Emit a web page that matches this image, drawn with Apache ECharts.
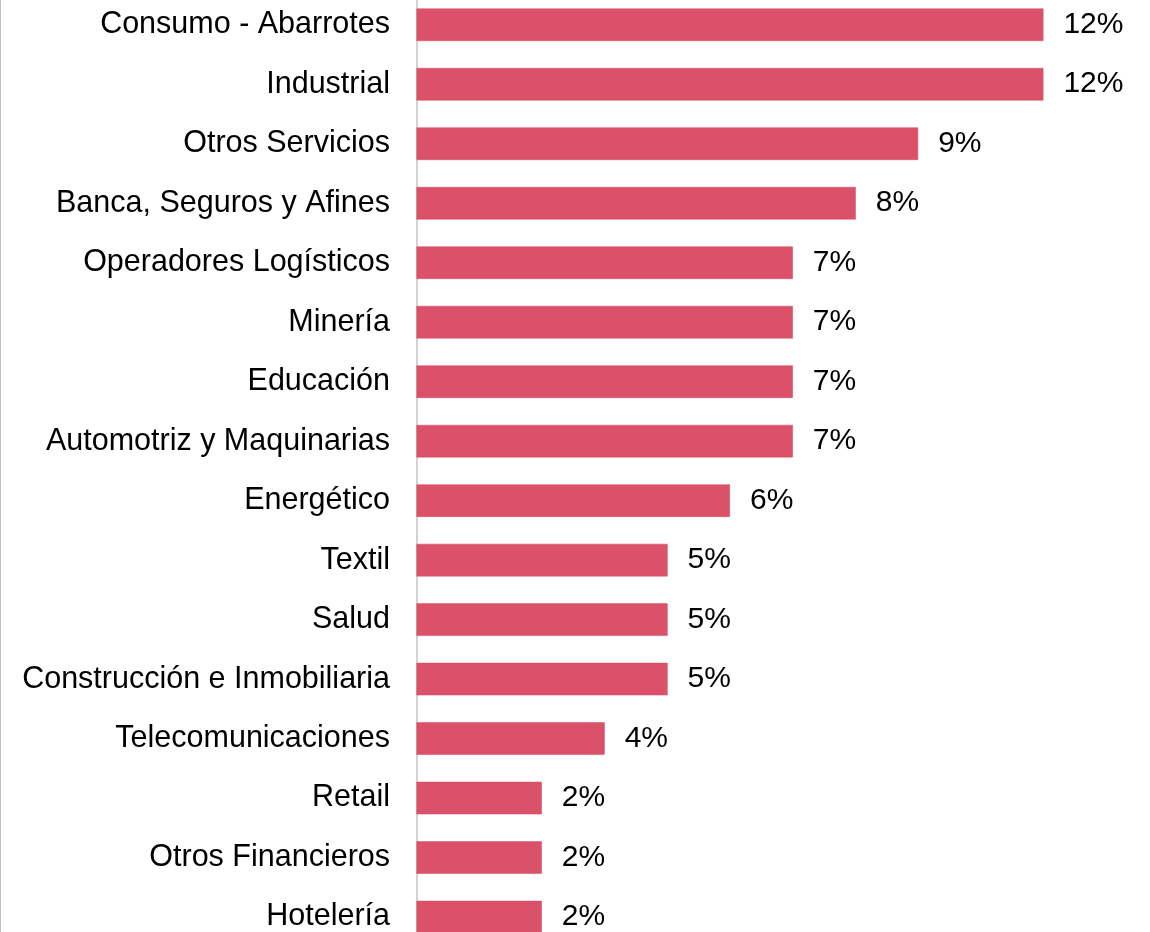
<!DOCTYPE html>
<html>
<head>
<meta charset="utf-8">
<style>
html,body{margin:0;padding:0;background:#fff;overflow:hidden;width:1150px;height:932px;position:relative;}
#chart{position:absolute;left:0;top:-6px;width:1150px;height:960px;}
#border{position:absolute;left:0;top:0;width:1px;height:932px;background:#bfbfbf;}
</style>
<script src="https://cdn.jsdelivr.net/npm/echarts@6/dist/echarts.min.js"></script>
</head>
<body>
<div id="chart"></div>
<div id="border"></div>
<script>
const categories = [
  'Consumo - Abarrotes', 'Industrial', 'Otros Servicios', 'Banca, Seguros y Afines',
  'Operadores Logísticos', 'Minería', 'Educación', 'Automotriz y Maquinarias',
  'Energético', 'Textil', 'Salud', 'Construcción e Inmobiliaria',
  'Telecomunicaciones', 'Retail', 'Otros Financieros', 'Hotelería'
];
const shares = [11.76, 11.76, 9.41, 8.24, 7.06, 7.06, 7.06, 7.06, 5.88, 4.71, 4.71, 4.71, 3.53, 2.35, 2.35, 2.35];

const chart = echarts.init(document.getElementById('chart'), null, {renderer: 'canvas'});
const FONT = '"Liberation Sans", Arial, sans-serif';
chart.setOption({
  animation: false,
  backgroundColor: '#ffffff',
  grid: {left: 416.5, top: 1, width: 693, height: 951.8, containLabel: false},
  xAxis: {
    type: 'value', min: 0, max: 13,
    show: false
  },
  yAxis: {
    type: 'category', data: categories, inverse: true,
    axisLine: {show: true, lineStyle: {color: '#d3d3d3', width: 2}},
    axisTick: {show: false},
    axisLabel: {color: '#000', fontSize: 30.5, fontFamily: FONT, margin: 26.5}
  },
  series: [{
    type: 'bar', data: shares, barWidth: 32.5,
    itemStyle: {color: '#da5169', borderColor: '#d24a63', borderWidth: 0.5},
    label: {
      show: true, position: 'right', distance: 20,
      color: '#000', fontSize: 30, fontFamily: FONT,
      formatter: p => Math.round(p.value) + '%'
    }
  }]
});
</script>
</body>
</html>
